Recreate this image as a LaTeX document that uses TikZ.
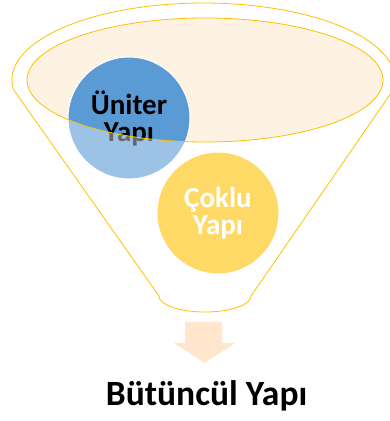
\documentclass[tikz,border=0pt]{standalone}
\usepackage{fontspec}
\setmainfont{Carlito}
\usetikzlibrary{positioning}

\definecolor{funnelgold}{HTML}{FFC000}
\definecolor{rimfill}{HTML}{FEF2E2}
\definecolor{unitblue}{HTML}{5B9BD5}
\definecolor{multiyellow}{HTML}{FFD966}
\definecolor{arrowpeach}{HTML}{FFE6CC}

\newcommand{\funnelbody}{(13.4,331.6)
  arc[start angle=187, end angle=-7, x radius=191.5pt, y radius=77pt]
  -- (251,125)
  arc[start angle=0, end angle=-180, x radius=46pt, y radius=16pt]
  -- cycle}

\tikzset{
  bubble/.style={circle, minimum size=122pt, inner sep=0pt,
    draw=white, line width=1pt, align=center,
    font=\bfseries\fontsize{29}{27}\selectfont},
  rimline/.style={draw=funnelgold, line width=0.8pt}
}

\begin{document}
\begin{tikzpicture}[x=1pt,y=1pt]
  \useasboundingbox (0,0) rectangle (390,421);

  \fill[rimfill] (205,341) ellipse [x radius=178pt, y radius=62pt];

  \node[bubble, fill=unitblue] (uniter) at (129,303) {Üniter\\Yapı};

  % white veil over the body, the rim left open
  \fill[white, fill opacity=0.4, even odd rule]
  \funnelbody
  (205,341) ellipse [x radius=178pt, y radius=62pt];

  \node[bubble, fill=multiyellow, text=white] (coklu) at (218,208) {Çoklu\\Yapı};

  \path[rimline] \funnelbody;
  \path[rimline] (205,341) ellipse [x radius=178pt, y radius=62pt];

  \fill[arrowpeach]
  (185,99) -- (222,99) -- (222,78) -- (235,78) --
  (204.5,58) -- (174,78) -- (185,78) -- cycle;

  \node[font=\bfseries\fontsize{35.5}{40}\selectfont, anchor=base]
  (whole) at (206.5,16) {Bütüncül Yapı};

\end{tikzpicture}
\end{document}
